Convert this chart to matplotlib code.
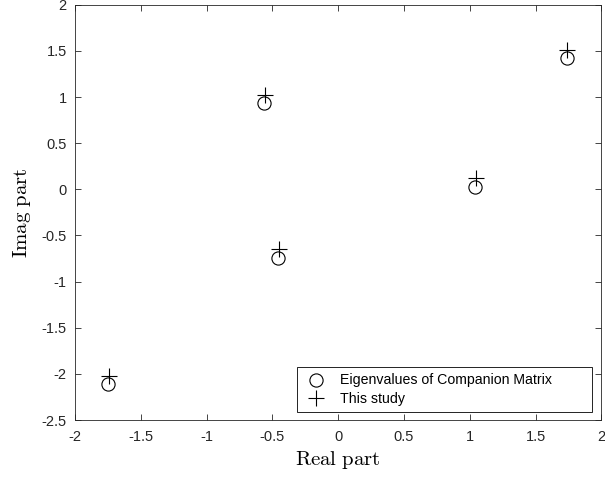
import matplotlib
matplotlib.use("Agg")
import matplotlib.pyplot as plt

# eigenvalues of the companion matrix (circles)
eig_re = [-1.748, -0.561, -0.454, 1.043, 1.740]
eig_im = [-2.114, 0.940, -0.747, 0.023, 1.422]

# roots from this study (plus signs)
study_re = [-1.743, -0.558, -0.449, 1.048, 1.741]
study_im = [-2.024, 1.024, -0.646, 0.120, 1.512]

xticks = [-2, -1.5, -1, -0.5, 0, 0.5, 1, 1.5, 2]
yticks = [-2.5, -2, -1.5, -1, -0.5, 0, 0.5, 1, 1.5, 2]

plt.rcParams['font.family'] = ['Liberation Sans', 'DejaVu Sans']
plt.rcParams['mathtext.fontset'] = 'cm'

fig = plt.figure(figsize=(6.05, 4.8), dpi=100)
ax = fig.add_axes([0.124, 0.125, 0.870, 0.865])

ax.plot(eig_re, eig_im, 'o', mfc='none', mec='black', ms=9.5, mew=0.8,
        label='Eigenvalues of Companion Matrix')
ax.plot(study_re, study_im, '+', color='black', ms=11, mew=0.8,
        label='This study')

ax.set_xlim(-2, 2)
ax.set_ylim(-2.5, 2)
ax.set_xticks(xticks)
ax.set_yticks(yticks)
ax.set_xticklabels([f'{t:g}' for t in xticks])
ax.set_yticklabels([f'{t:g}' for t in yticks])

axc = '#262626'
for s in ax.spines.values():
    s.set_color(axc)
    s.set_linewidth(0.6)
ax.tick_params(direction='in', top=True, right=True, length=4, width=0.6,
               color=axc, labelsize=10.5, labelcolor=axc)
ax.tick_params(axis='x', pad=7)
ax.tick_params(axis='y', pad=6)

ax.set_xlabel(r'$\mathrm{Real\ part}$', fontsize=15, labelpad=4)
ax.set_ylabel(r'$\mathrm{Imag\ part}$', fontsize=15, labelpad=6)

# legend box stretched to the MATLAB-like width
leg = ax.legend(loc='lower left', bbox_to_anchor=(0.422, 0.019, 0.561, 0.104),
                mode='expand', fancybox=False, framealpha=1, edgecolor='black',
                fontsize=10.2, handlelength=1.8, borderpad=0.45, labelspacing=0.3,
                handletextpad=0.75, borderaxespad=0)
leg.get_frame().set_linewidth(0.6)

fig.savefig('out.png', dpi=100)
